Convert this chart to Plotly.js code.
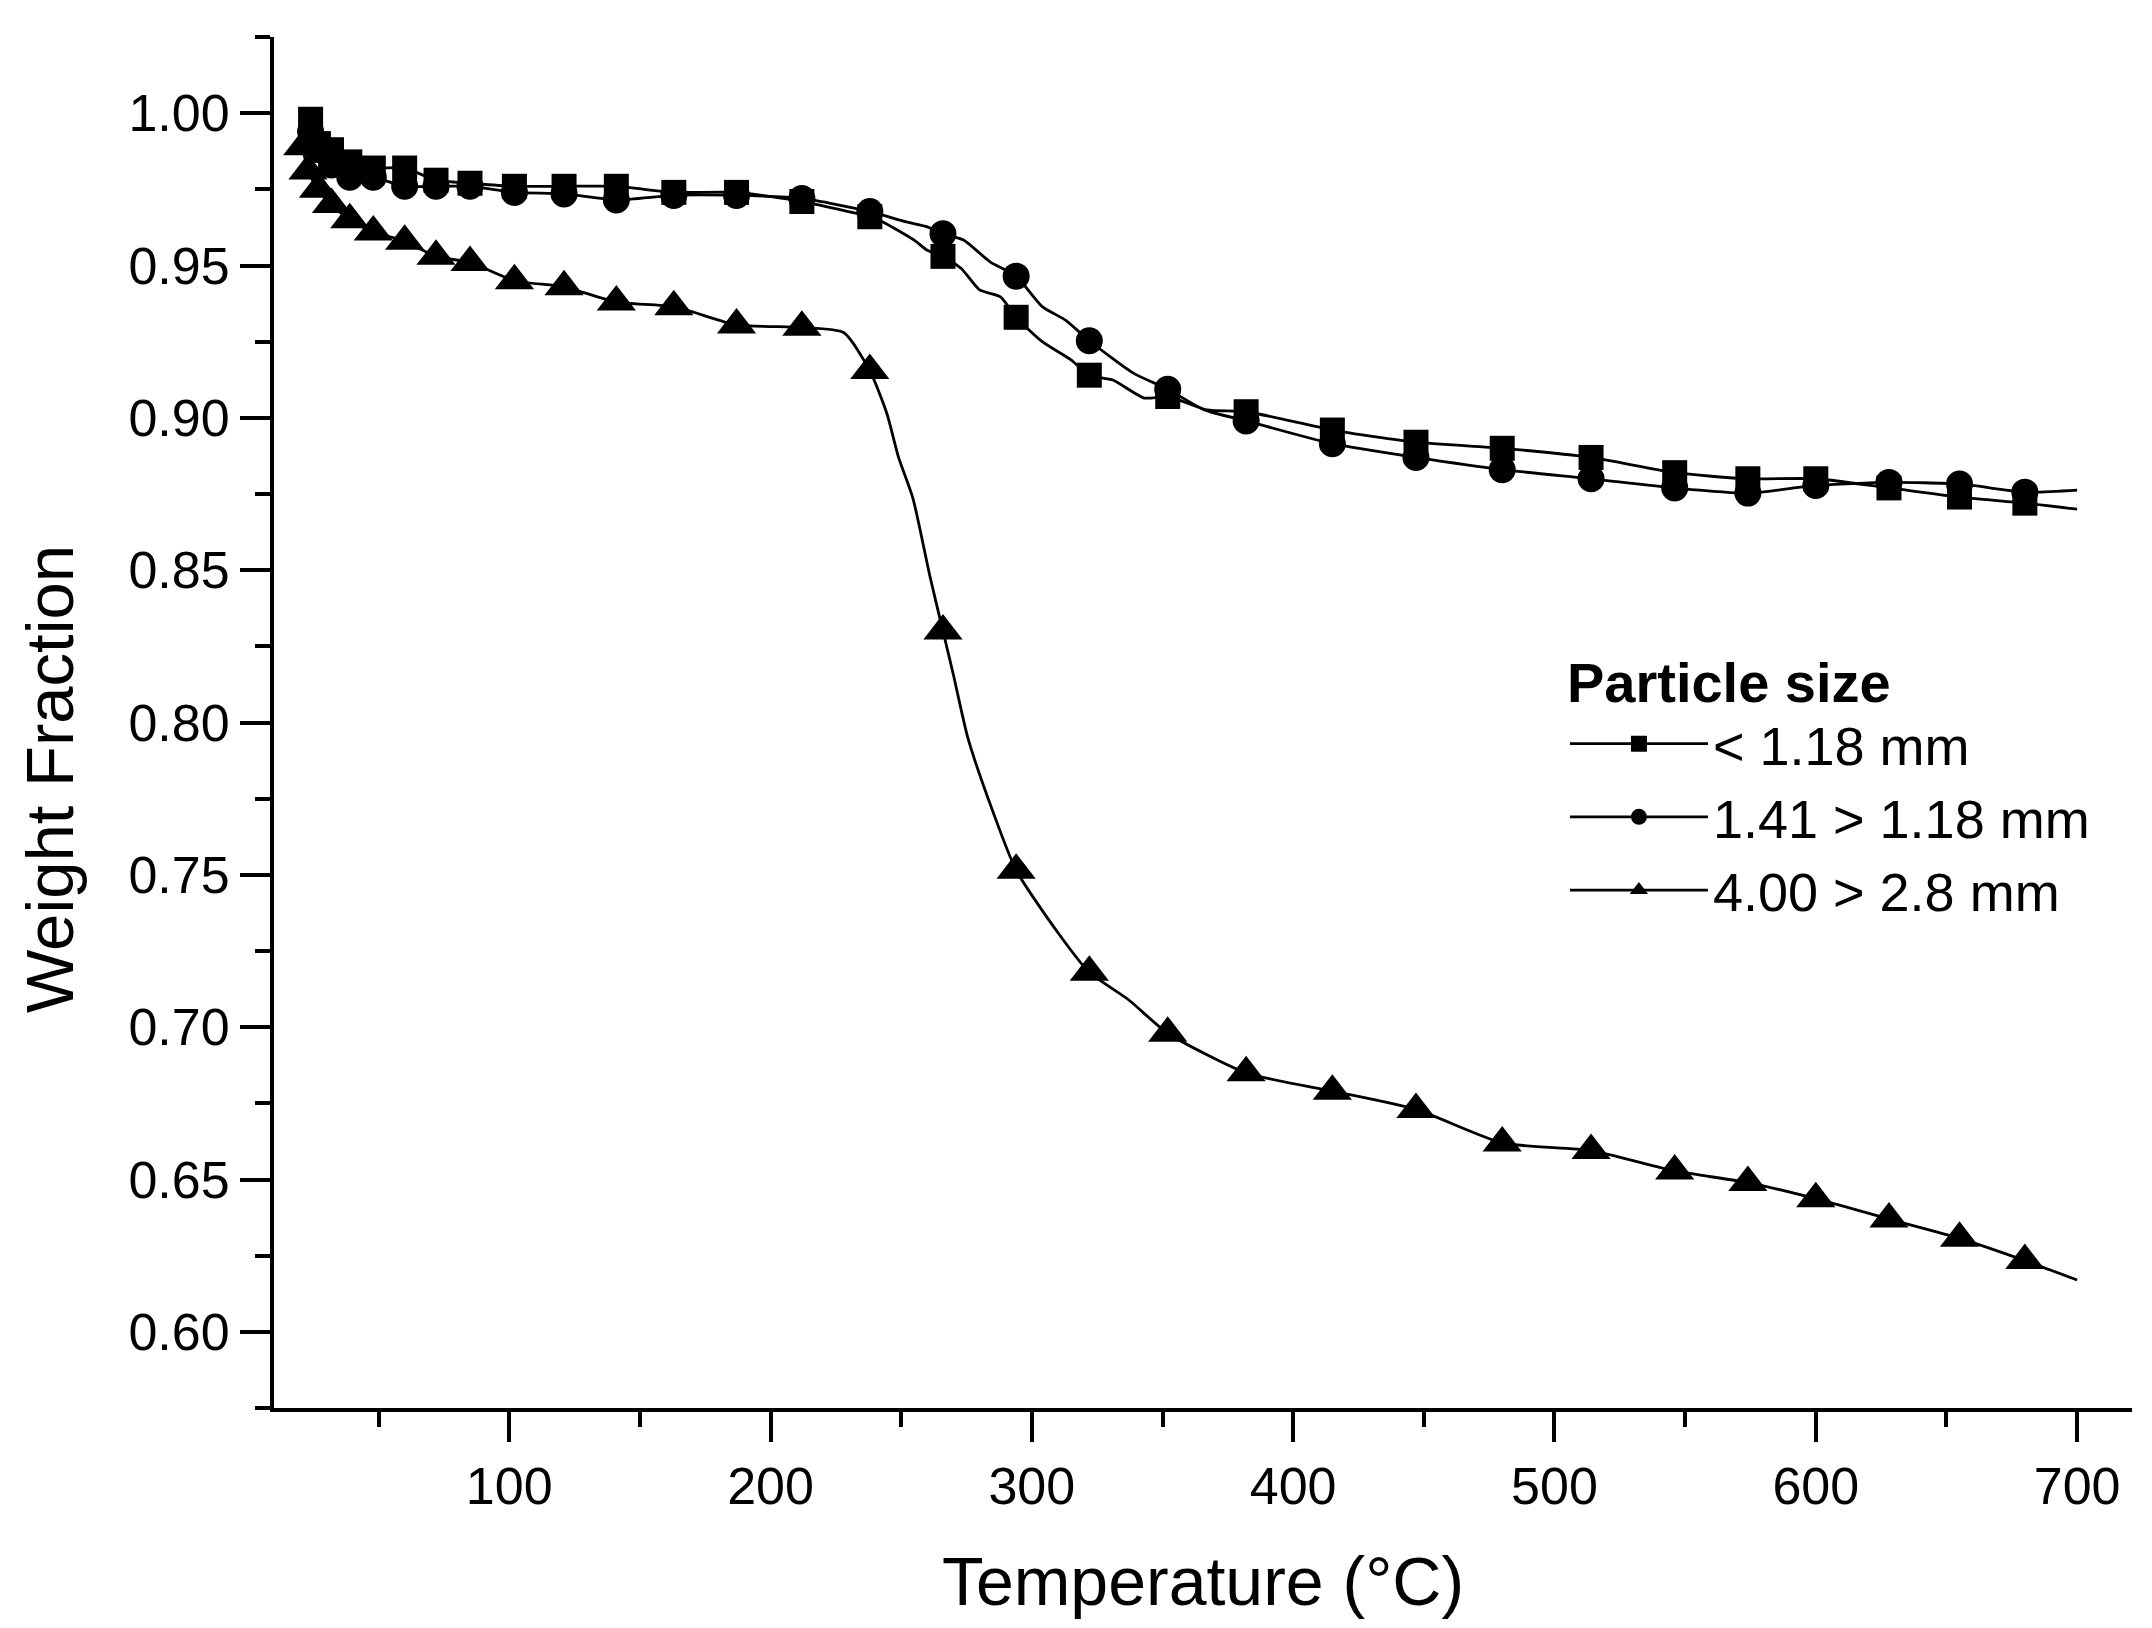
<!DOCTYPE html>
<html>
<head>
<meta charset="utf-8">
<script src="https://cdn.plot.ly/plotly-3.0.1.min.js"></script>
<style>
  html, body { margin: 0; padding: 0; background: #fff; }
  #plot { width: 2152px; height: 1628px; }
</style>
</head>
<body>
<div id="plot"></div>
<script>
// Temperature columns where the symbols sit (°C)
const markX = [24, 27, 32, 39, 48, 60, 72, 85, 102, 121, 141, 163, 187, 212, 238, 266, 294, 322, 352, 382, 415, 447, 480, 514, 546, 574, 600, 628, 655, 680];
const triMarkX = [21, 23, 27, 32, 39, 48, 60, 72, 85, 102, 121, 141, 163, 187, 212, 238, 266, 294, 322, 352, 382, 415, 447, 480, 514, 546, 574, 600, 628, 655, 680];

// < 1.18 mm
const sqMarkY = [0.998, 0.990, 0.988, 0.984, 0.982, 0.982, 0.978, 0.977, 0.976, 0.976, 0.976, 0.974, 0.974, 0.971, 0.966, 0.953, 0.933, 0.914, 0.907, 0.902, 0.896, 0.892, 0.890, 0.887, 0.882, 0.880, 0.880, 0.877, 0.874, 0.872];
const sqLineX = [243, 255, 260, 273, 280, 288, 304, 315, 331, 343, 367, 700];
const sqLineY = [0.9643, 0.9583, 0.955, 0.949, 0.942, 0.9397, 0.925, 0.919, 0.9124, 0.9065, 0.9026, 0.870];

// 1.41 > 1.18 mm
const ciMarkY = [0.994, 0.988, 0.983, 0.979, 0.979, 0.976, 0.976, 0.976, 0.974, 0.9735, 0.9715, 0.973, 0.973, 0.972, 0.9677, 0.9604, 0.9465, 0.9253, 0.9094, 0.899, 0.8915, 0.887, 0.883, 0.880, 0.877, 0.8753, 0.8778, 0.8788, 0.8783, 0.8756];
const ciLineX = [252, 260, 274, 284, 304, 313, 339, 366, 700];
const ciLineY = [0.9643, 0.9627, 0.9583, 0.9512, 0.9365, 0.932, 0.9146, 0.9026, 0.8763];

// 4.00 > 2.8 mm
const triMarkY = [0.989, 0.981, 0.975, 0.970, 0.965, 0.961, 0.958, 0.953, 0.951, 0.945, 0.943, 0.938, 0.9365, 0.9305, 0.9297, 0.9155, 0.830, 0.7515, 0.718, 0.698, 0.685, 0.679, 0.673, 0.662, 0.6595, 0.6528, 0.649, 0.6437, 0.637, 0.6307, 0.6234];
const triLineX = [228, 244.5, 249, 254.5, 261, 270, 275.5, 283.3, 310, 337, 700];
const triLineY = [0.928, 0.9015, 0.887, 0.8736, 0.848, 0.8156, 0.795, 0.775, 0.731, 0.709, 0.617];

const seriesNames = ['< 1.18 mm', '1.41 > 1.18 mm', '4.00 > 2.8 mm'];

// merge symbol points and in-between line points, symbols only where measured
function buildSeries(mx, my, lx, ly, symSize) {
    const pts = mx.map((x, i) => ({ x: x, y: my[i], s: symSize }))
        .concat(lx.map((x, i) => ({ x: x, y: ly[i], s: 0 })));
    pts.sort((a, b) => a.x - b.x);
    return { x: pts.map(p => p.x), y: pts.map(p => p.y), size: pts.map(p => p.s) };
}

const specs = [
    { d: buildSeries(markX, sqMarkY, sqLineX, sqLineY, 25), symbol: 'square' },
    { d: buildSeries(markX, ciMarkY, ciLineX, ciLineY, 27), symbol: 'circle' },
    { d: buildSeries(triMarkX, triMarkY, triLineX, triLineY, 34), symbol: 'triangle-up' },
];

const traces = specs.map((s, i) => ({
    x: s.d.x,
    y: s.d.y,
    name: seriesNames[i],
    type: 'scatter',
    mode: 'lines+markers',
    line: { color: '#000', width: 2.8, shape: 'spline', smoothing: 0.6 },
    marker: { symbol: s.symbol, size: s.d.size, opacity: 1, color: '#000', line: { width: 0 } },
}));

const font = 'Liberation Sans, Arial, sans-serif';

const layout = {
    width: 2152,
    height: 1628,
    margin: { l: 274, r: 20, t: 37, b: 220 },
    paper_bgcolor: '#fff',
    plot_bgcolor: '#fff',
    font: { family: font, color: '#000', size: 52 },
    showlegend: true,
    xaxis: {
        range: [10, 721],
        dtick: 100,
        tick0: 0,
        ticks: 'outside',
        ticklen: 30,
        tickwidth: 4,
        tickcolor: '#000',
        showline: true,
        linewidth: 4,
        linecolor: '#000',
        showgrid: false,
        zeroline: false,
        tickfont: { family: font, size: 52 },
        minor: { dtick: 50, ticks: 'outside', ticklen: 15, tickwidth: 4, tickcolor: '#000', showgrid: false },
        title: { text: 'Temperature (°C)', font: { family: font, size: 68 }, standoff: 44 },
    },
    yaxis: {
        range: [0.575, 1.025],
        dtick: 0.05,
        tick0: 0.6,
        tickformat: '.2f',
        ticks: 'outside',
        ticklen: 30,
        tickwidth: 4,
        tickcolor: '#000',
        showline: true,
        linewidth: 4,
        linecolor: '#000',
        showgrid: false,
        zeroline: false,
        tickfont: { family: font, size: 52 },
        minor: { dtick: 0.025, ticks: 'outside', ticklen: 15, tickwidth: 4, tickcolor: '#000', showgrid: false },
    },
    annotations: [{
        text: 'Weight Fraction',
        xref: 'paper', yref: 'paper',
        x: -0.1206, y: 0.4588,
        xanchor: 'center', yanchor: 'middle',
        textangle: -90,
        showarrow: false,
        font: { family: font, size: 67, color: '#000' },
    }],
    legend: {
        x: 0.6948,
        y: 0.568,
        xanchor: 'left',
        yanchor: 'top',
        bgcolor: 'rgba(0,0,0,0)',
        borderwidth: 0,
        itemwidth: 138,
        tracegroupgap: 0,
        font: { family: font, size: 54, color: '#000' },
        title: { text: '<b>Particle size</b>', font: { family: font, size: 56, color: '#000' } },
    },
};

Plotly.newPlot('plot', traces, layout, { displayModeBar: false, staticPlot: true });
</script>
</body>
</html>
